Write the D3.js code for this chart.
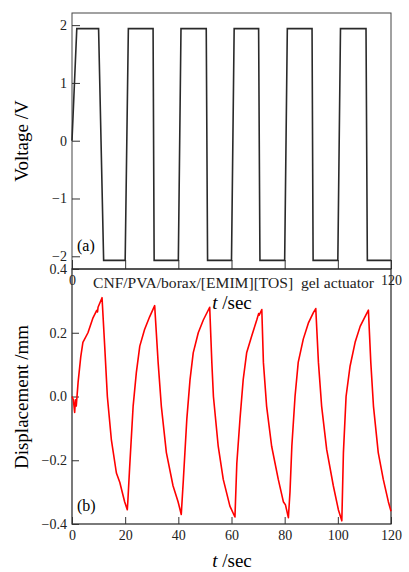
<!DOCTYPE html>
<html>
<head>
<meta charset="utf-8">
<script src="https://cdn.jsdelivr.net/npm/d3@7"></script>
<style>
body { margin: 0; background: #fff; }
.axis path { display: none; }
.axis line { stroke: #333; }
</style>
</head>
<body>
<svg class="chart"></svg>
<script>
// Chart data

var voltTime = [0, 1.8, 10, 11.9, 20, 21.2, 30.5, 30.9, 40, 41, 50.5, 51, 60, 61, 70.2, 70.7, 80, 81, 90.3, 90.7, 100, 101, 110.6, 111.1, 119.8, 120];
var voltValue = [0, 1.94, 1.94, -2.07, -2.07, 1.94, 1.94, -2.07, -2.07, 1.94, 1.94, -2.07, -2.07, 1.94, 1.94, -2.07, -2.07, 1.94, 1.94, -2.07, -2.07, 1.94, 1.94, -2.07, -2.07, -2.07];

var dispTime = [0, 0.5, 1.0, 1.3, 1.6, 2.3, 3.3, 4.1, 6.0, 7.9, 9.3, 9.6, 9.8, 11.3,
	12.3, 13.3, 14.8, 16.7, 18.0, 18.6, 19.8, 20.8, 21.0, 21.7, 23.0, 24.2, 25.5, 27.3, 29.2, 31.1,
	32.4, 33.6, 35.5, 38.0, 39.9, 41.1, 41.9, 43.2, 44.4, 45.6, 47.5, 49.4, 51.8,
	52.6, 53.2, 55.0, 56.9, 59.4, 61.3, 62.0, 63.2, 64.4, 65.7, 67.6, 69.5, 70.2, 70.4, 71.4,
	72.0, 73.2, 75.1, 77.6, 79.5, 80.3, 81.4, 82.0, 82.7, 83.9, 85.1, 87.0, 88.9, 90.8, 91.7,
	92.7, 93.9, 95.8, 98.3, 100.2, 101.5, 102.1, 103.1, 104.6, 106.5, 108.4, 110.2, 111.5,
	112.4, 113.4, 115.2, 117.1, 119.0, 120];
var dispValue = [0, -0.01, -0.05, -0.01, -0.03, 0.045, 0.125, 0.17, 0.2, 0.247, 0.27, 0.265, 0.28, 0.31,
	0.158, 0.0, -0.135, -0.24, -0.27, -0.29, -0.33, -0.355, -0.33, -0.22, -0.03, 0.075, 0.158, 0.21, 0.25, 0.285,
	0.107, -0.03, -0.176, -0.28, -0.33, -0.37, -0.26, -0.07, 0.053, 0.137, 0.2, 0.24, 0.28,
	0.107, 0.0, -0.156, -0.26, -0.344, -0.378, -0.21, -0.07, 0.053, 0.137, 0.19, 0.24, 0.26, 0.255, 0.273,
	0.107, -0.03, -0.156, -0.26, -0.33, -0.34, -0.38, -0.3, -0.156, 0.0, 0.107, 0.18, 0.23, 0.263, 0.276,
	0.107, -0.03, -0.166, -0.28, -0.355, -0.39, -0.176, 0.0, 0.095, 0.17, 0.22, 0.25, 0.271,
	0.107, -0.03, -0.176, -0.26, -0.33, -0.36];

var timeTicks = [0, 20, 40, 60, 80, 100, 120];
var voltTicks = [-2, -1, 0, 1, 2];
var dispTicks = [-0.4, -0.2, 0.0, 0.2, 0.4];

var titleText = "CNF/PVA/borax/[EMIM][TOS]\u00a0\u00a0gel actuator";

// Basic dimensions

var serif = "'Liberation Serif', 'Times New Roman', serif";
var width = 409, height = 572;
var left = 72, right = 391;
var aTop = 13, aBottom = 269;
var bTop = 269, bBottom = 524;

var chart = d3.select(".chart")
	.attr("width", width)
	.attr("height", height)
	.attr("font-family", serif);

var x = d3.scaleLinear().domain([0, 120]).range([left, right]);
var yA = d3.scaleLinear().domain([-2.22, 2.21]).range([aBottom, aTop]);
var yB = d3.scaleLinear().domain([-0.4, 0.4]).range([bBottom, bTop]);

function styleAxis(g) {
	// d3 puts a sans-serif font on the axis group; swap it for the serif one
	g.attr("font-family", serif).attr("font-size", 14);
	g.selectAll("text").style("fill", "#222");
}

// Panel (a): voltage

chart.append("rect")
	.attr("x", left).attr("y", aTop)
	.attr("width", right - left).attr("height", aBottom - aTop)
	.style("fill", "none").style("stroke", "#444").style("stroke-width", 1);

chart.append("g")
	.attr("class", "axis")
	.attr("transform", "translate(" + left + ",0)")
	.call(d3.axisLeft(yA).tickValues(voltTicks).tickSizeInner(-8).tickSizeOuter(0).tickPadding(5)
		.tickFormat(d3.format("d")))
	.call(styleAxis);

chart.append("g")
	.attr("class", "axis")
	.attr("transform", "translate(0," + aBottom + ")")
	.call(d3.axisBottom(x).tickValues(timeTicks).tickSizeInner(-9).tickSizeOuter(0).tickPadding(6)
		.tickFormat(function(d) { return (d == 0 || d == 120) ? d : ""; }))
	.call(styleAxis);

var voltLine = d3.line()
	.x(function(d, i) { return x(voltTime[i]); })
	.y(function(d) { return yA(d); });

chart.append("path")
	.datum(voltValue)
	.attr("d", voltLine)
	.style("fill", "none")
	.style("stroke", "#2a2a2a")
	.style("stroke-width", 1.6)
	.style("stroke-linejoin", "miter");

chart.append("text")
	.attr("x", 77).attr("y", 251)
	.attr("font-size", 16)
	.text("(a)");

chart.append("text")
	.attr("transform", "translate(28,141) rotate(-90)")
	.attr("text-anchor", "middle")
	.attr("font-size", 19)
	.text("Voltage /V");

var tA = chart.append("text")
	.attr("x", 232).attr("y", 309)
	.attr("text-anchor", "middle")
	.attr("font-size", 19);
tA.append("tspan").attr("font-style", "italic").text("t");
tA.append("tspan").text(" /sec");

// Title sits between the 0 and 120 labels of panel (a), as in the figure
chart.append("text")
	.attr("x", 93).attr("y", 288)
	.attr("font-size", 15.5)
	.attr("textLength", 281)
	.attr("lengthAdjust", "spacingAndGlyphs")
	.style("fill", "#222")
	.text(titleText);

// Panel (b): displacement

chart.append("rect")
	.attr("x", left).attr("y", bTop)
	.attr("width", right - left).attr("height", bBottom - bTop)
	.style("fill", "none").style("stroke", "#222").style("stroke-width", 1.2);

chart.append("g")
	.attr("class", "axis")
	.attr("transform", "translate(" + left + ",0)")
	.call(d3.axisLeft(yB).tickValues(dispTicks).tickSizeInner(-7).tickSizeOuter(0).tickPadding(5)
		.tickFormat(d3.format(".1f")))
	.call(styleAxis);

chart.append("g")
	.attr("class", "axis")
	.attr("transform", "translate(0," + bBottom + ")")
	.call(d3.axisBottom(x).tickValues(timeTicks).tickSizeInner(-7).tickSizeOuter(0).tickPadding(6))
	.call(styleAxis);

var dispLine = d3.line()
	.x(function(d, i) { return x(dispTime[i]); })
	.y(function(d) { return yB(d); });

chart.append("path")
	.datum(dispValue)
	.attr("d", dispLine)
	.style("fill", "none")
	.style("stroke", "#ff0000")
	.style("stroke-width", 1.6)
	.style("stroke-linejoin", "round");

chart.append("text")
	.attr("x", 77).attr("y", 511)
	.attr("font-size", 16)
	.text("(b)");

chart.append("text")
	.attr("transform", "translate(28,397) rotate(-90)")
	.attr("text-anchor", "middle")
	.attr("font-size", 19)
	.text("Displacement /mm");

var tB = chart.append("text")
	.attr("x", 232).attr("y", 567)
	.attr("text-anchor", "middle")
	.attr("font-size", 19);
tB.append("tspan").attr("font-style", "italic").text("t");
tB.append("tspan").text(" /sec");
</script>
</body>
</html>
